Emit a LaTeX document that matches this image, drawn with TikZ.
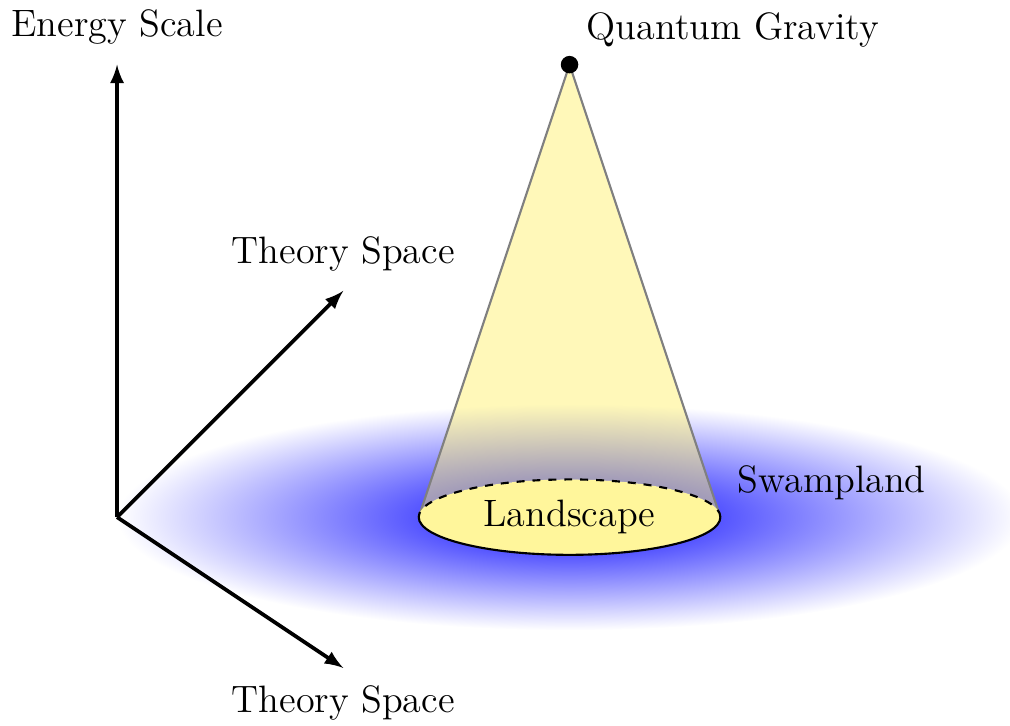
\documentclass[tikz,border=0pt]{standalone}
\usetikzlibrary{arrows}
\definecolor{conecol}{RGB}{255,240,100}
\definecolor{landcol}{RGB}{255,246,155}
\tikzset{
  axis/.style={line width=1.4pt,-latex},
  lbl/.style={font=\Large},
}
\begin{document}
\begin{tikzpicture}
\useasboundingbox (-1.552,-2.759) rectangle (11.84,6.857);
% swampland shading
\shade[inner color=blue, outer color=white] (6,0) ellipse (6 and 1.5);
% cone
\coordinate (apex) at (6,6);
\coordinate (L) at (4,0);
\coordinate (R) at (8,0);
\fill[conecol, fill opacity=0.45] (L) -- (apex) -- (R) arc (0:180:2 and 0.5) -- cycle;
\draw[gray, thick] (L) -- (apex) -- (R);
% landscape
\fill[landcol] (6,0) ellipse (2 and 0.5);
\draw[thick] (R) arc (0:-180:2 and 0.5);
\draw[thick, dashed] (R) arc (0:180:2 and 0.5);
\node[lbl] (land) at (6,0) {Landscape};
\fill (apex) circle (3.3pt);
\node[lbl, above right=3pt] (qg) at (apex) {Quantum Gravity};
\node[lbl, above right=3pt] (swamp) at (R) {Swampland};
% axes
\coordinate (O) at (0,0);
\coordinate (E) at (0,6);
\coordinate (T1) at (3,3);
\coordinate (T2) at (3,-2);
\draw[axis] (O) -- (E);
\draw[axis] (O) -- (T1);
\draw[axis] (O) -- (T2);
\node[lbl, above=4pt] (el) at (E) {Energy Scale};
\node[lbl, above=4pt] (t1l) at (T1) {Theory Space};
\node[lbl, below=3pt] (t2l) at (T2) {Theory Space};
\end{tikzpicture}
\end{document}
